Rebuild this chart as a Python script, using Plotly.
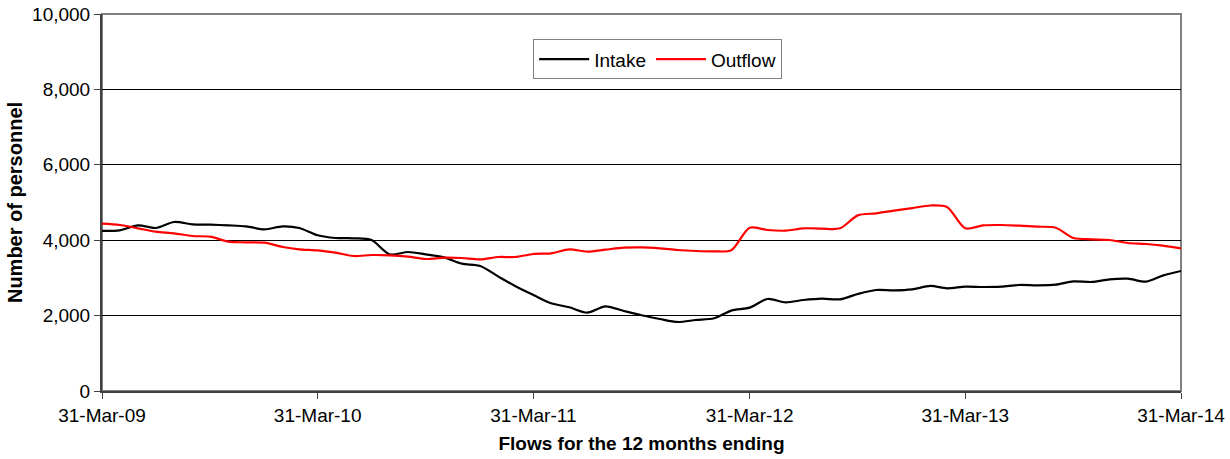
import pandas as pd
import plotly.graph_objects as go

# Monthly flows (12 months ending), 31-Mar-09 .. 31-Mar-14
months = pd.date_range("2009-03-31", periods=61, freq="ME")

intake = [4245, 4262, 4394, 4324, 4483, 4421, 4412, 4394, 4368, 4288,
          4368, 4324, 4130, 4058, 4050, 4005, 3625, 3687, 3625, 3546,
          3378, 3316, 3033, 2786, 2547, 2326, 2220, 2079, 2247, 2123,
          2008, 1911, 1831, 1884, 1929, 2132, 2211, 2440, 2352, 2414,
          2449, 2432, 2573, 2679, 2670, 2697, 2786, 2724, 2768, 2759,
          2768, 2812, 2803, 2821, 2909, 2892, 2962, 2980, 2900, 3060,
          3184]

outflow = [4439, 4403, 4315, 4226, 4182, 4111, 4094, 3961, 3944, 3935,
           3820, 3758, 3730, 3669, 3581, 3607, 3598, 3563, 3501, 3537,
           3528, 3492, 3554, 3554, 3634, 3652, 3758, 3696, 3749, 3802,
           3811, 3784, 3740, 3714, 3705, 3735, 4330, 4270, 4253, 4315,
           4306, 4315, 4659, 4712, 4783, 4853, 4920, 4880, 4315, 4394,
           4403, 4385, 4359, 4332, 4058, 4023, 4005, 3926, 3899, 3855,
           3784]

tick_dates = ["2009-03-31", "2010-03-31", "2011-03-31",
              "2012-03-31", "2013-03-31", "2014-03-31"]
tick_text = ["31-Mar-09", "31-Mar-10", "31-Mar-11",
             "31-Mar-12", "31-Mar-13", "31-Mar-14"]
y_ticks = [0, 2000, 4000, 6000, 8000, 10000]

FONT = "Liberation Sans, Arial, sans-serif"

fig = go.Figure()
fig.add_trace(go.Scatter(x=months, y=intake, name="Intake", mode="lines",
                         line=dict(color="#000000", width=2.2,
                                   shape="spline", smoothing=0.8)))
fig.add_trace(go.Scatter(x=months, y=outflow, name="Outflow", mode="lines",
                         line=dict(color="#ff0000", width=2.2,
                                   shape="spline", smoothing=0.8)))

fig.update_layout(
    width=1230, height=459,
    margin=dict(l=102, r=49, t=14, b=68),
    paper_bgcolor="white", plot_bgcolor="white",
    font=dict(family=FONT, size=19, color="black"),
    showlegend=True,
    legend=dict(orientation="h", x=0.515, y=0.88, xanchor="center",
                yanchor="middle", bgcolor="white", bordercolor="#808080",
                borderwidth=1, font=dict(size=19), itemwidth=50,
                tracegroupgap=0),
    shapes=[dict(type="rect", xref="paper", yref="paper", x0=0, x1=1,
                 y0=0, y1=1, line=dict(color="#808080", width=2),
                 layer="below")],
)

fig.update_xaxes(
    type="date", range=[tick_dates[0], tick_dates[-1]],
    tickvals=tick_dates, ticktext=tick_text,
    showgrid=False, zeroline=False, automargin=False,
    ticklabeloverflow="allow",
    showline=True, linecolor="#404040", linewidth=2,
    ticks="outside", ticklen=6, tickcolor="#404040", tickwidth=1,
    tickfont=dict(size=19),
    title=dict(text="<b>Flows for the 12 months ending</b>",
               font=dict(size=19), standoff=12),
)
fig.update_yaxes(
    range=[0, 10000], tickvals=y_ticks, tickformat=",d",
    showgrid=True, gridcolor="#000000", gridwidth=1,
    zeroline=False, automargin=False,
    ticklabeloverflow="allow",
    showline=True, linecolor="#404040", linewidth=2,
    ticks="outside", ticklen=6, tickcolor="#404040", tickwidth=1,
    tickfont=dict(size=19),
    title=dict(text="<b>Number of personnel</b>", font=dict(size=20),
               standoff=4),
)

fig.write_html(
    "out.html",
    config={"displayModeBar": False},
    post_script="document.body.style.margin='0px';"
                "document.body.style.overflow='hidden';",
)
